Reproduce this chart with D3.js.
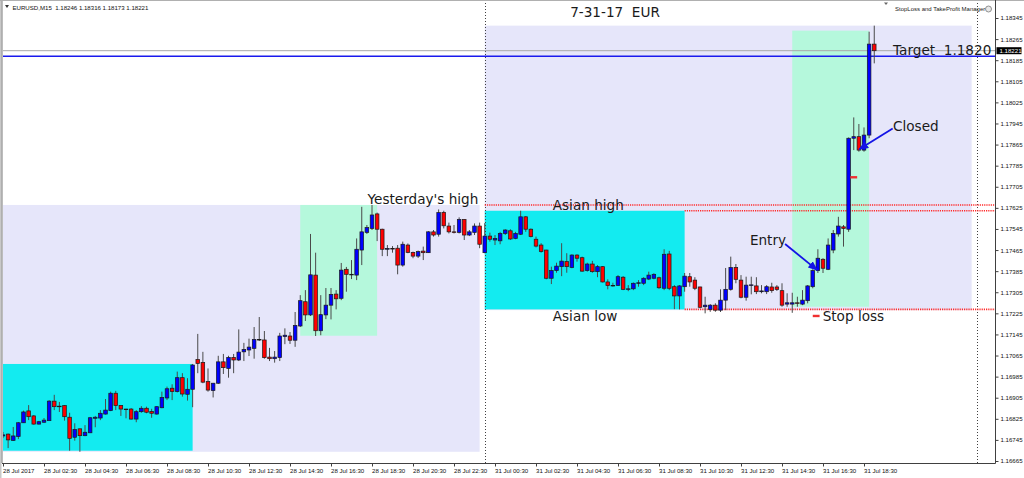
<!DOCTYPE html>
<html><head><meta charset="utf-8">
<script src="https://cdn.jsdelivr.net/npm/d3@7/dist/d3.min.js"></script>
<style>
html,body{margin:0;padding:0;background:#fff;overflow:hidden}
svg{display:block}
</style></head><body>
<svg id="chart" width="1024" height="478"></svg>
<script>
// ---------------- DATA ----------------
const symbol = "EURUSD";
const timeframe = "M15";
const chartTitle = "7-31-17  EUR";
const managerName = "StopLoss and TakeProfit Manager";

// trading sessions shown (M15 bars)
const sessions = [
  {start: "2017-07-28T00:30", bars: 94},
  {start: "2017-07-31T00:00", bars: 77}
];

// [open, high, low, close] per M15 bar
const ohlc = [
[1.16760,1.16775,1.16752,1.16764],[1.16767,1.16769,1.16714,1.16745],[1.16743,1.16794,1.16741,1.16760],[1.16758,1.16813,1.16748,1.16810],
[1.16810,1.16856,1.16809,1.16851],[1.16855,1.16877,1.16820,1.16833],[1.16836,1.16839,1.16803,1.16805],[1.16805,1.16817,1.16803,1.16814],
[1.16812,1.16828,1.16809,1.16820],[1.16818,1.16896,1.16817,1.16892],[1.16892,1.16916,1.16858,1.16871],[1.16871,1.16889,1.16851,1.16873],
[1.16875,1.16877,1.16818,1.16833],[1.16831,1.16848,1.16704,1.16751],[1.16755,1.16808,1.16742,1.16785],[1.16787,1.16788,1.16700,1.16761],
[1.16761,1.16801,1.16759,1.16774],[1.16772,1.16832,1.16771,1.16829],[1.16827,1.16836,1.16793,1.16831],[1.16828,1.16858,1.16820,1.16846],
[1.16843,1.16900,1.16841,1.16858],[1.16856,1.16928,1.16854,1.16922],[1.16922,1.16931,1.16858,1.16875],[1.16876,1.16877,1.16836,1.16862],
[1.16862,1.16863,1.16827,1.16861],[1.16862,1.16866,1.16822,1.16824],[1.16824,1.16858,1.16812,1.16852],[1.16852,1.16873,1.16848,1.16865],
[1.16865,1.16871,1.16846,1.16850],[1.16853,1.16863,1.16829,1.16846],[1.16843,1.16873,1.16841,1.16871],[1.16867,1.16928,1.16865,1.16906],
[1.16904,1.16947,1.16896,1.16939],[1.16941,1.16956,1.16896,1.16928],[1.16928,1.17004,1.16925,1.16981],[1.16981,1.16998,1.16909,1.16919],
[1.16918,1.16979,1.16894,1.16937],[1.16937,1.17033,1.16869,1.17029],[1.17050,1.17147,1.16998,1.17035],[1.17039,1.17079,1.16960,1.16964],
[1.16966,1.17016,1.16928,1.16934],[1.16932,1.16961,1.16906,1.16960],[1.16960,1.17064,1.16957,1.17041],[1.17041,1.17071,1.16995,1.17019],
[1.17016,1.17064,1.16981,1.17058],[1.17058,1.17071,1.16998,1.17048],[1.17048,1.17164,1.17044,1.17078],[1.17079,1.17113,1.17044,1.17088],
[1.17086,1.17129,1.17063,1.17097],[1.17092,1.17173,1.17053,1.17126],[1.17126,1.17211,1.17120,1.17124],[1.17124,1.17158,1.17053,1.17057],
[1.17059,1.17094,1.17044,1.17053],[1.17053,1.17082,1.17038,1.17059],[1.17057,1.17151,1.17044,1.17139],[1.17137,1.17168,1.17108,1.17142],
[1.17139,1.17154,1.17109,1.17123],[1.17123,1.17230,1.17098,1.17179],[1.17177,1.17294,1.17173,1.17273],[1.17269,1.17313,1.17196,1.17219],
[1.17219,1.17526,1.17215,1.17371],[1.17370,1.17455,1.17139,1.17159],[1.17159,1.17294,1.17142,1.17220],[1.17219,1.17321,1.17203,1.17256],
[1.17256,1.17321,1.17202,1.17297],[1.17298,1.17313,1.17240,1.17280],[1.17282,1.17416,1.17275,1.17389],[1.17392,1.17401,1.17307,1.17373],
[1.17373,1.17427,1.17355,1.17372],[1.17370,1.17509,1.17351,1.17468],[1.17465,1.17629,1.17408,1.17534],[1.17532,1.17560,1.17526,1.17550],
[1.17547,1.17636,1.17541,1.17598],[1.17602,1.17607,1.17499,1.17544],[1.17544,1.17546,1.17442,1.17468],[1.17468,1.17484,1.17442,1.17471],
[1.17471,1.17480,1.17455,1.17469],[1.17472,1.17484,1.17373,1.17408],[1.17408,1.17497,1.17402,1.17487],[1.17484,1.17490,1.17453,1.17456],
[1.17456,1.17459,1.17434,1.17442],[1.17442,1.17463,1.17435,1.17459],[1.17461,1.17478,1.17427,1.17455],[1.17455,1.17537,1.17454,1.17534],
[1.17534,1.17541,1.17516,1.17522],[1.17525,1.17619,1.17516,1.17607],[1.17608,1.17614,1.17547,1.17557],[1.17556,1.17569,1.17528,1.17534],
[1.17534,1.17560,1.17528,1.17533],[1.17532,1.17589,1.17528,1.17581],[1.17581,1.17582,1.17503,1.17522],[1.17522,1.17541,1.17518,1.17534],
[1.17532,1.17566,1.17522,1.17556],[1.17556,1.17569,1.17472,1.17487],
[1.17455,1.17567,1.17453,1.17518],[1.17518,1.17531,1.17497,1.17506],[1.17503,1.17522,1.17484,1.17509],[1.17500,1.17534,1.17487,1.17528],
[1.17528,1.17544,1.17522,1.17541],[1.17538,1.17544,1.17503,1.17507],[1.17509,1.17534,1.17506,1.17528],[1.17525,1.17614,1.17522,1.17591],
[1.17591,1.17594,1.17534,1.17544],[1.17544,1.17547,1.17513,1.17516],[1.17506,1.17516,1.17475,1.17480],[1.17484,1.17491,1.17455,1.17459],
[1.17465,1.17466,1.17354,1.17358],[1.17358,1.17402,1.17336,1.17387],[1.17387,1.17417,1.17379,1.17404],[1.17402,1.17491,1.17366,1.17423],
[1.17421,1.17453,1.17379,1.17402],[1.17399,1.17449,1.17396,1.17446],[1.17446,1.17449,1.17421,1.17434],[1.17436,1.17440,1.17383,1.17385],
[1.17387,1.17417,1.17383,1.17412],[1.17412,1.17424,1.17379,1.17383],[1.17383,1.17408,1.17362,1.17402],[1.17402,1.17404,1.17342,1.17344],
[1.17344,1.17354,1.17316,1.17330],[1.17330,1.17341,1.17326,1.17331],[1.17331,1.17370,1.17329,1.17364],[1.17362,1.17366,1.17313,1.17316],
[1.17316,1.17332,1.17309,1.17318],[1.17318,1.17342,1.17313,1.17339],[1.17339,1.17351,1.17326,1.17341],[1.17339,1.17362,1.17332,1.17358],
[1.17355,1.17383,1.17351,1.17370],[1.17358,1.17377,1.17354,1.17373],[1.17360,1.17364,1.17318,1.17322],[1.17320,1.17468,1.17313,1.17449],
[1.17450,1.17462,1.17313,1.17320],[1.17326,1.17332,1.17241,1.17291],[1.17291,1.17332,1.17240,1.17329],[1.17326,1.17378,1.17307,1.17366],
[1.17364,1.17378,1.17326,1.17344],[1.17351,1.17362,1.17313,1.17320],[1.17325,1.17326,1.17244,1.17248],[1.17250,1.17288,1.17225,1.17256],
[1.17240,1.17260,1.17231,1.17256],[1.17256,1.17263,1.17231,1.17237],[1.17237,1.17316,1.17230,1.17275],[1.17275,1.17397,1.17237,1.17316],
[1.17316,1.17440,1.17311,1.17399],[1.17399,1.17412,1.17339,1.17354],[1.17351,1.17370,1.17282,1.17286],[1.17286,1.17364,1.17273,1.17332],
[1.17332,1.17364,1.17297,1.17333],[1.17329,1.17362,1.17298,1.17307],[1.17307,1.17332,1.17301,1.17310],[1.17307,1.17332,1.17298,1.17326],
[1.17325,1.17341,1.17303,1.17311],[1.17325,1.17332,1.17310,1.17316],[1.17311,1.17339,1.17250,1.17256],[1.17260,1.17301,1.17250,1.17265],
[1.17260,1.17303,1.17227,1.17265],[1.17265,1.17288,1.17250,1.17263],[1.17260,1.17313,1.17256,1.17275],[1.17273,1.17332,1.17263,1.17329],
[1.17326,1.17392,1.17320,1.17387],[1.17387,1.17468,1.17378,1.17434],[1.17430,1.17434,1.17378,1.17396],[1.17392,1.17509,1.17389,1.17484],
[1.17465,1.17541,1.17453,1.17528],[1.17526,1.17591,1.17516,1.17556],[1.17553,1.17560,1.17478,1.17547],[1.17544,1.17892,1.17534,1.17889],
[1.17889,1.17968,1.17844,1.17895],[1.17895,1.17943,1.17838,1.17844],[1.17844,1.17930,1.17838,1.17901],[1.17901,1.18293,1.17889,1.18246],
[1.18246,1.18316,1.18173,1.18221]
];

const priceTicks = [1.16665,1.16745,1.16825,1.16905,1.16985,1.17065,1.17145,1.17225,1.17305,1.17385,1.17465,
  1.17545,1.17625,1.17705,1.17785,1.17865,1.17945,1.18025,1.18105,1.18185,1.18265,1.18345];

const xTickTimes = ["2017-07-28T00:30","2017-07-28T02:30","2017-07-28T04:30","2017-07-28T06:30","2017-07-28T08:30",
  "2017-07-28T10:30","2017-07-28T12:30","2017-07-28T14:30","2017-07-28T16:30","2017-07-28T18:30","2017-07-28T20:30",
  "2017-07-28T22:30","2017-07-31T00:30","2017-07-31T02:30","2017-07-31T04:30","2017-07-31T06:30","2017-07-31T08:30",
  "2017-07-31T10:30","2017-07-31T12:30","2017-07-31T14:30","2017-07-31T16:30","2017-07-31T18:30"];
const xTickLabels = ["28 Jul 2017","28 Jul 02:30","28 Jul 04:30","28 Jul 06:30","28 Jul 08:30","28 Jul 10:30",
  "28 Jul 12:30","28 Jul 14:30","28 Jul 16:30","28 Jul 18:30","28 Jul 20:30","28 Jul 22:30","31 Jul 00:30",
  "31 Jul 02:30","31 Jul 04:30","31 Jul 06:30","31 Jul 08:30","31 Jul 10:30","31 Jul 12:30","31 Jul 14:30",
  "31 Jul 16:30","31 Jul 18:30"];

// session rectangles
const boxes = [
  {kind: "day",   from: "2017-07-28T00:00", to: "2017-07-28T23:45", hi: 1.17636, lo: 1.16700},
  {kind: "day",   from: "2017-07-31T00:00", to: "2017-07-31T23:45", hi: 1.18316, lo: 1.17237},
  {kind: "asian", from: "2017-07-28T00:00", to: "2017-07-28T09:45", hi: 1.17033, lo: 1.16704},
  {kind: "asian", from: "2017-07-31T00:00", to: "2017-07-31T09:45", hi: 1.17614, lo: 1.17240},
  {kind: "ny",    from: "2017-07-28T15:00", to: "2017-07-28T18:45", hi: 1.17636, lo: 1.17140},
  {kind: "ny",    from: "2017-07-31T15:00", to: "2017-07-31T18:45", hi: 1.18297, lo: 1.17250}
];
const levels = [
  {name: "Yesterday's high", price: 1.17636, from: "2017-07-31T00:00"},
  {name: "Asian high",       price: 1.17614, from: "2017-07-31T09:45"},
  {name: "Asian low",        price: 1.17240, from: "2017-07-31T09:45"}
];
const separators = ["2017-07-31T00:00", "2017-08-01T00:00"];
const targetPrice = 1.18200;
const orderMarks = [
  {from: "2017-07-31T16:00", to: "2017-07-31T16:20", price: 1.17215},
  {from: "2017-07-31T17:50", to: "2017-07-31T18:10", price: 1.17741}
];
const notes = [
  {text: "7-31-17  EUR",     time: "2017-07-31T04:10", price: 1.18348},
  {text: "Target  1.1820",   time: "2017-07-31T19:55", price: 1.18205},
  {text: "Closed",           time: "2017-07-31T19:55", price: 1.17916},
  {text: "Entry",            time: "2017-07-31T12:56", price: 1.17484},
  {text: "Stop loss",        time: "2017-07-31T16:29", price: 1.17196},
  {text: "Yesterday's high", time: "2017-07-28T18:17", price: 1.17639},
  {text: "Asian high",       time: "2017-07-31T03:19", price: 1.17617},
  {text: "Asian low",        time: "2017-07-31T03:19", price: 1.17196}
];
const arrows = [
  {fromT: "2017-07-31T14:39", fromP: 1.17488, toT: "2017-07-31T16:13", toP: 1.17389},
  {fromT: "2017-07-31T19:54", fromP: 1.17926, toT: "2017-07-31T18:16", toP: 1.17847}
];

// ---------------- HELPERS ----------------
const barMs = 15 * 60 * 1000;
const parseT = s => new Date(s + ":00Z");
let acc = 0;
const sess = sessions.map(s => {
  const t0 = parseT(s.start);
  const day = Date.UTC(t0.getUTCFullYear(), t0.getUTCMonth(), t0.getUTCDate());
  const o = {t0, day, off: acc}; acc += s.bars; return o;
});
function idx(s) {
  const t = parseT(s);
  let cur = sess[0];
  for (const ss of sess) if (+t >= ss.day) cur = ss;
  return cur.off + (t - cur.t0) / barMs;
}
const candles = ohlc.map((d, i) => ({i, o: d[0], h: d[1], l: d[2], c: d[3]}));

// ---------------- LAYOUT ----------------
const plotL = 3, plotR = 995, plotT = 0, plotB = 463;
const x = d3.scaleLinear().domain([0, candles.length - 1]).range([3, 3 + (candles.length - 1) * 5.125]);
const y = d3.scaleLinear().domain([priceTicks[0], priceTicks[priceTicks.length - 1]]).range([461, 18]);

const svg = d3.select("#chart");
svg.append("rect").attr("width", 1024).attr("height", 478).attr("fill", "#ffffff");

const defs = svg.append("defs");
defs.append("clipPath").attr("id", "plotclip").append("rect")
  .attr("x", plotL).attr("y", plotT).attr("width", plotR - plotL).attr("height", plotB - plotT);
defs.append("marker").attr("id", "arrowhead").attr("markerUnits", "userSpaceOnUse")
  .attr("markerWidth", 10).attr("markerHeight", 8).attr("refX", 9).attr("refY", 4)
  .attr("orient", "auto")
  .append("path").attr("d", "M0,0 L10,4 L0,8 Z").attr("fill", "#1414e6");

const plot = svg.append("g").attr("clip-path", "url(#plotclip)");

const boxFill = {day: "#e6e6fa", asian: "#13ebf0", ny: "#b5f8dc"};
const boxOrder = ["day", "asian", "ny"];
plot.append("g").selectAll("rect")
  .data(boxes.slice().sort((a, b) => boxOrder.indexOf(a.kind) - boxOrder.indexOf(b.kind)))
  .join("rect")
  .attr("x", d => x(idx(d.from)))
  .attr("width", d => x(idx(d.to)) - x(idx(d.from)))
  .attr("y", d => y(d.hi))
  .attr("height", d => y(d.lo) - y(d.hi))
  .attr("fill", d => boxFill[d.kind]);

// period separators
plot.append("g").selectAll("line").data(separators).join("line")
  .attr("x1", d => Math.round(x(idx(d))) + 0.5).attr("x2", d => Math.round(x(idx(d))) + 0.5)
  .attr("y1", plotT).attr("y2", plotB)
  .attr("stroke", "#404040").attr("stroke-width", 1).attr("stroke-dasharray", "1,2");

// level lines (red dotted)
plot.append("g").selectAll("line").data(levels).join("line")
  .attr("x1", d => x(idx(d.from))).attr("x2", plotR)
  .attr("y1", d => y(d.price)).attr("y2", d => y(d.price))
  .attr("stroke", "#ff2a2a").attr("stroke-width", 1.6).attr("stroke-dasharray", "1.2,1");

// bid line and target line
const last = candles[candles.length - 1];
plot.append("line").attr("x1", plotL).attr("x2", plotR)
  .attr("y1", y(last.c)).attr("y2", y(last.c)).attr("stroke", "#a8a8a8").attr("stroke-width", 1);
plot.append("line").attr("x1", plotL).attr("x2", plotR)
  .attr("y1", y(targetPrice)).attr("y2", y(targetPrice)).attr("stroke", "#1a1aee").attr("stroke-width", 1.4);

// candles
const bw = 3.6;
const cg = plot.append("g");
cg.selectAll("line").data(candles).join("line")
  .attr("x1", d => x(d.i)).attr("x2", d => x(d.i))
  .attr("y1", d => y(d.h)).attr("y2", d => y(d.l))
  .attr("stroke", "#4a4a4a").attr("stroke-width", 1);
cg.selectAll("rect").data(candles).join("rect")
  .attr("x", d => x(d.i) - bw / 2).attr("width", bw)
  .attr("y", d => y(Math.max(d.o, d.c)))
  .attr("height", d => Math.max(0.6, Math.abs(y(d.o) - y(d.c))))
  .attr("fill", d => d.c >= d.o ? "#0000ff" : "#ff0000")
  .attr("stroke", "#1a1a1a").attr("stroke-width", 0.7);

// order marks (red dashes)
plot.append("g").selectAll("line").data(orderMarks).join("line")
  .attr("x1", d => x(idx(d.from))).attr("x2", d => x(idx(d.to)))
  .attr("y1", d => y(d.price)).attr("y2", d => y(d.price))
  .attr("stroke", "#f03030").attr("stroke-width", 2.4);

// arrows
plot.append("g").selectAll("line").data(arrows).join("line")
  .attr("x1", d => x(idx(d.fromT))).attr("y1", d => y(d.fromP))
  .attr("x2", d => x(idx(d.toT))).attr("y2", d => y(d.toP))
  .attr("stroke", "#1414e6").attr("stroke-width", 1.8)
  .attr("marker-end", "url(#arrowhead)");

// annotation texts
plot.append("g").selectAll("text").data(notes).join("text")
  .attr("x", d => x(idx(d.time))).attr("y", d => y(d.price))
  .style("white-space", "pre")
  .attr("font-family", "DejaVu Sans, Verdana, sans-serif").attr("font-size", 13.6)
  .attr("fill", "#1a1a1a")
  .text(d => d.text);

// header
const fmt = d3.format(".5f");
svg.append("path").attr("d", "M5,5 L9,5 L7,8 Z").attr("fill", "#333");
svg.append("text").attr("x", 12.5).attr("y", 9.5)
  .style("white-space", "pre")
  .attr("font-family", "Liberation Sans, Arial, sans-serif").attr("font-size", 6.1).attr("fill", "#111")
  .text(`${symbol},${timeframe}  ${fmt(last.o)} ${fmt(last.h)} ${fmt(last.l)} ${fmt(last.c)}`);
svg.append("text").attr("x", 895).attr("y", 11)
  .attr("font-family", "Liberation Sans, Arial, sans-serif").attr("font-size", 6).attr("fill", "#222")
  .text(managerName);
svg.append("circle").attr("cx", 988.5).attr("cy", 9).attr("r", 3).attr("fill", "#e8e8e8").attr("stroke", "#777").attr("stroke-width", 0.8);
svg.append("path").attr("d", "M884,2.5 L888,2.5 L886,5 Z").attr("fill", "#666");

// frame
svg.append("rect").attr("x", 0).attr("y", 0).attr("width", 1.5).attr("height", 478).attr("fill", "#c8c8c8");
svg.append("line").attr("x1", 2).attr("x2", 2).attr("y1", 0).attr("y2", plotB).attr("stroke", "#7a7a7a");
svg.append("line").attr("x1", 0).attr("x2", 1024).attr("y1", 0.5).attr("y2", 0.5).attr("stroke", "#b0b0b0");
svg.append("line").attr("x1", plotR + 0.5).attr("x2", plotR + 0.5).attr("y1", 0).attr("y2", plotB + 0.5).attr("stroke", "#404040");
svg.append("line").attr("x1", 2).attr("x2", plotR + 0.5).attr("y1", plotB + 0.5).attr("y2", plotB + 0.5).attr("stroke", "#404040");

// right price axis
const yAxis = d3.axisRight(y).tickValues(priceTicks).tickFormat(fmt).tickSize(3).tickPadding(2);
const ya = svg.append("g").attr("transform", `translate(${plotR + 0.5},0)`).call(yAxis);
ya.select(".domain").remove();
ya.selectAll(".tick line").attr("stroke", "#404040");
ya.selectAll(".tick text").attr("font-family", "Liberation Sans, Arial, sans-serif").attr("font-size", 6.1).attr("fill", "#111");

// bid price label
svg.append("rect").attr("x", 996.5).attr("y", y(last.c) - 3.5).attr("width", 25).attr("height", 7).attr("fill", "#000");
svg.append("text").attr("x", 999.5).attr("y", y(last.c) + 2.1)
  .attr("font-family", "Liberation Sans, Arial, sans-serif").attr("font-size", 6.1).attr("fill", "#fff")
  .text(fmt(last.c));

// bottom time axis
const xa = svg.append("g");
const xt = xa.selectAll("g").data(xTickTimes).join("g")
  .attr("transform", d => `translate(${Math.round(x(idx(d))) + 0.5},${plotB + 0.5})`);
xt.append("line").attr("y1", 0).attr("y2", 3).attr("stroke", "#404040");
xt.append("text").attr("x", -0.5).attr("y", 9.2)
  .attr("font-family", "Liberation Sans, Arial, sans-serif").attr("font-size", 6.1).attr("fill", "#111")
  .text((d, i) => xTickLabels[i]);
</script>
</body></html>
